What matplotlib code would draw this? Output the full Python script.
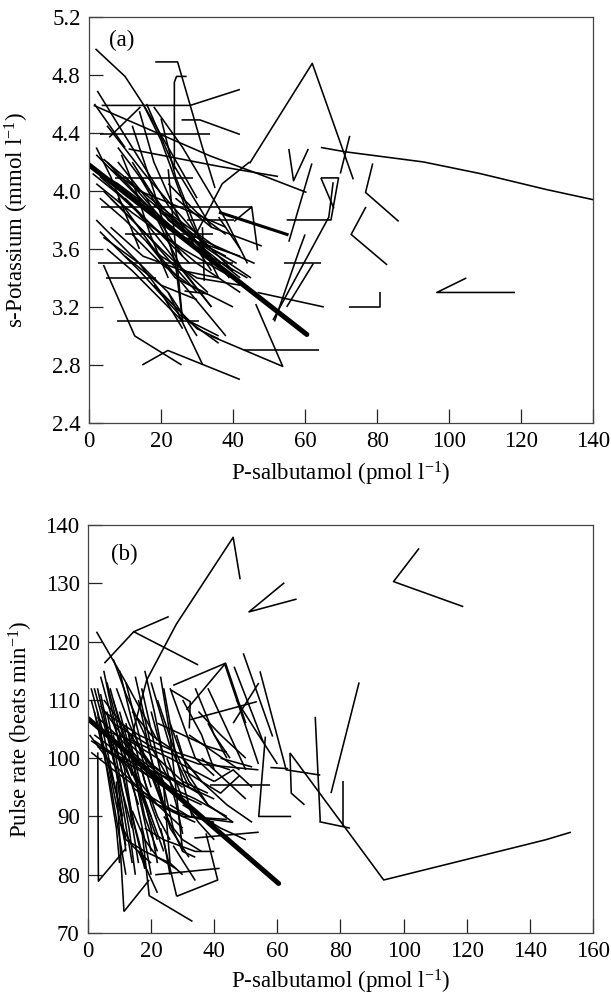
"""
Salbutamol vs potassium / pulse rate - individual subject traces
"""

import matplotlib
matplotlib.use('Agg')
import matplotlib.pyplot as plt

plt.rcParams['font.family'] = 'Liberation Serif'
plt.rcParams['mathtext.fontset'] = 'custom'
plt.rcParams['mathtext.rm'] = 'Liberation Serif'
plt.rcParams['mathtext.it'] = 'Liberation Serif:italic'

# (salbutamol pmol/l, s-potassium mmol/l) per subject
potassium_traces = [
    [(64.4, 4.30), (71.2, 4.27), (92.9, 4.20), (108.6, 4.12), (127.0, 4.01), (140, 3.94)],
    [(44.6, 4.19), (62.0, 4.88), (73.4, 4.08)],
    [(72.4, 4.38), (69.8, 4.12)],
    [(55.5, 4.29), (56.8, 4.07), (60.9, 4.29)],
    [(61.9, 4.19), (55.5, 3.65)],
    [(64.4, 4.09), (69.3, 4.09), (67.2, 3.80), (54.9, 3.80)],
    [(64.4, 4.09), (68.0, 3.88)],
    [(54.2, 3.50), (64.4, 3.50)],
    [(62.3, 3.50), (54.9, 3.20)],
    [(51.5, 3.10), (58.5, 3.60), (60.0, 3.70)],
    [(51.1, 3.11), (66.6, 3.82), (67.8, 4.06)],
    [(78.8, 4.19), (76.8, 3.99), (86.0, 3.79)],
    [(76.9, 3.89), (72.8, 3.70), (82.8, 3.49)],
    [(72.3, 3.20), (80.9, 3.20), (80.9, 3.30)],
    [(104.8, 3.40), (96.6, 3.30), (118.3, 3.30)],
    [(46.8, 3.30), (65.2, 3.20)],
    [(43.0, 2.90), (63.9, 2.90)],
    [(28.0, 3.62), (37.0, 4.05), (44.6, 4.20)],
    [(40.3, 3.79), (45.2, 3.89), (46.8, 3.59)],
    [(3.3, 3.89), (45.2, 3.89)],
    [(27.3, 3.80), (40.3, 3.80)],
    [(10.0, 3.70), (34.3, 3.70)],
    [(2.4, 3.50), (40.1, 3.50)],
    [(4.6, 3.40), (18.6, 3.40)],
    [(7.8, 3.10), (30.6, 3.10)],
    [(7.3, 4.09), (28.9, 4.09)],
    [(3.0, 4.39), (33.6, 4.39)],
    [(3.5, 4.59), (28.1, 4.59), (41.9, 4.70)],
    [(18.4, 4.89), (24.6, 4.89), (31.5, 4.30), (35.0, 4.02)],
    [(27.1, 4.79), (24.3, 4.79), (23.7, 4.75), (23.7, 4.15)],
    [(25.7, 4.49), (30.8, 4.49), (41.9, 4.39)],
    [(1.3, 4.59), (33.8, 4.24), (46.8, 4.12), (60.4, 3.99)],
    [(11.0, 4.29), (36.0, 4.17), (52.5, 4.10)],
    [(1.8, 4.98), (10.0, 4.79), (15.0, 4.60), (22.0, 4.30), (30.0, 3.95)],
    [(4.0, 3.49), (12.7, 3.00), (25.7, 2.80)],
    [(14.8, 2.80), (21.9, 2.90), (41.9, 2.70)],
    [(22.0, 3.30), (31.6, 2.80)],
    [(33.8, 3.00), (53.8, 2.79), (46.3, 3.22)],
    [(4.0, 3.68), (14.0, 3.50), (20.0, 3.30), (26.0, 3.05)],
    [(2.3, 4.69), (12.0, 4.30), (22.0, 3.90), (33.0, 3.55)],
    [(1.5, 4.60), (10.0, 4.30)],
    [(5.0, 4.45), (16.0, 4.10), (30.0, 3.70), (40.0, 3.45)],
    [(2.0, 4.25), (14.0, 3.95), (30.0, 3.60), (44.0, 3.40)],
    [(3.0, 4.10), (12.0, 3.90), (20.0, 3.65), (34.0, 3.20)],
    [(5.0, 4.20), (18.0, 3.85), (26.0, 3.55)],
    [(8.0, 4.30), (20.0, 3.90), (35.0, 3.50)],
    [(10.0, 4.10), (24.0, 3.70), (42.0, 3.55)],
    [(4.0, 4.00), (16.0, 3.70), (30.0, 3.30)],
    [(6.0, 3.95), (20.0, 3.60), (33.0, 3.30)],
    [(2.0, 3.80), (10.0, 3.60), (22.0, 3.30), (30.0, 3.00)],
    [(3.0, 3.72), (14.0, 3.45), (25.0, 3.15), (36.0, 2.95)],
    [(12.0, 4.20), (22.0, 3.80), (42.0, 3.40)],
    [(14.0, 4.55), (18.0, 4.20), (26.0, 3.75), (34.0, 3.45)],
    [(15.0, 4.60), (20.0, 4.35), (28.0, 3.80), (36.0, 3.40)],
    [(16.0, 4.60), (23.0, 4.20), (34.0, 3.75)],
    [(18.0, 4.58), (26.0, 4.30), (38.0, 3.80), (44.0, 3.50)],
    [(12.0, 4.45), (18.0, 4.00), (24.0, 3.50), (26.0, 3.10)],
    [(20.0, 4.50), (24.0, 4.10), (32.0, 3.60), (39.0, 3.40)],
    [(8.0, 3.95), (18.0, 3.60), (28.0, 3.30), (38.0, 3.00)],
    [(6.0, 3.75), (15.0, 3.55), (26.0, 3.45), (36.0, 3.40)],
    [(16.0, 3.95), (26.0, 3.45), (34.0, 3.20)],
    [(20.0, 3.30), (28.0, 3.10), (36.0, 3.00)],
    [(10.0, 3.55), (20.0, 3.35), (30.0, 3.25)],
    [(22.0, 4.05), (30.0, 3.85), (38.0, 3.70)],
    [(5.6, 4.37), (14.3, 4.58)],
    [(30.0, 3.65), (45.0, 3.40)],
    [(26.5, 3.31), (33.0, 3.29)],
    [(18.0, 3.35), (30.0, 3.05), (36.0, 2.98)],
    [(36.0, 3.82), (42.0, 3.60)],
    [(22.0, 4.15), (26.0, 3.10)],
    [(31.5, 3.75), (32.0, 3.38)],
    [(1.0, 4.15), (8.0, 4.05), (16.0, 3.90)],
    [(0.5, 4.17), (10.0, 4.00), (20.0, 3.80), (32.0, 3.55)],
    [(1.0, 4.12), (8.0, 3.98), (18.0, 3.75), (28.0, 3.50)],
    [(2.0, 4.05), (12.0, 3.85), (26.0, 3.60), (40.0, 3.40)],
    [(4.0, 4.22), (12.0, 4.05), (22.0, 3.85), (36.0, 3.60)],
    [(6.0, 4.15), (14.0, 4.00), (24.0, 3.90), (38.0, 3.75)],
    [(8.0, 4.20), (16.0, 3.95), (28.0, 3.70), (46.0, 3.50)],
    [(3.0, 3.95), (10.0, 3.80), (20.0, 3.55), (30.0, 3.40), (42.0, 3.35)],
    [(10.0, 3.95), (18.0, 3.75), (30.0, 3.50), (42.0, 3.30)],
    [(14.0, 4.10), (20.0, 3.85), (30.0, 3.65), (38.0, 3.55)],
    [(5.0, 3.60), (12.0, 3.45), (20.0, 3.25), (26.0, 3.10)],
    [(12.0, 3.70), (20.0, 3.50), (28.0, 3.35), (40.0, 3.20)],
    [(16.0, 3.65), (24.0, 3.40), (32.0, 3.30)],
    [(9.0, 4.25), (13.0, 4.00), (17.0, 3.70), (22.0, 3.40)],
    [(18.0, 3.90), (24.0, 3.80), (34.0, 3.60), (41.0, 3.50)],
    [(2.0, 4.30), (6.0, 4.10), (10.0, 3.85), (14.0, 3.60)],
    [(24.0, 3.95), (34.0, 3.75), (48.0, 3.62)],
]
potassium_bold = [(36.5, 3.85), (55.0, 3.70)]
potassium_mean = [(0, 4.18), (60.5, 3.01)]

# (salbutamol pmol/l, pulse beats/min) per subject
pulse_traces = [
    [(13, 102), (18.6, 113.4), (28, 123), (46, 137.9), (48.2, 130.7)],
    [(62.2, 130.1), (51.0, 125.1), (66.1, 127.3)],
    [(104.9, 136), (96.8, 130.3), (118.9, 126)],
    [(64, 100.9), (93.7, 79.1), (145, 86), (153, 87.3)],
    [(73.3, 89.1), (83, 88)],
    [(72, 107.1), (73.6, 89.1)],
    [(80.7, 96), (80.7, 88.2)],
    [(85.9, 113), (77, 94)],
    [(64.4, 90), (54.1, 90), (56.2, 103.7)],
    [(64, 100.9), (64.4, 94), (68.6, 92)],
    [(54.5, 114.9), (62.8, 98), (73.6, 97.1)],
    [(49.2, 118), (58.5, 103.7)],
    [(46.3, 115.7), (55.5, 102.8)],
    [(43.4, 116), (54, 99)],
    [(38.6, 95.4), (57.8, 95.4)],
    [(57.8, 98.4), (63.4, 98.2)],
    [(31.2, 108.3), (43.6, 116.3)],
    [(25.6, 124.3), (14.5, 121.7), (34.9, 116)],
    [(5.2, 116.3), (14.5, 121.7)],
    [(2.7, 121.7), (12, 113), (22, 103)],
    [(26.3, 111.7), (32.4, 109.7), (32.1, 105.1)],
    [(32.4, 106.6), (53.5, 109.7)],
    [(27, 112.5), (43.6, 116.3), (50, 106)],
    [(3.1, 101), (3.3, 78.9), (12, 84.5)],
    [(11.4, 73.7), (19.4, 79.1)],
    [(9, 96), (11.4, 73.7)],
    [(17, 88), (19.4, 76.4), (33.1, 72)],
    [(28.1, 76.3), (41.1, 79.1), (37.4, 87.1)],
    [(21.3, 80), (41.7, 81.1)],
    [(33.7, 86.3), (54.1, 87.3)],
    [(23, 88), (28.1, 76.3)],
    [(16, 84), (22, 76.9)],
    [(2, 112), (8, 100), (14, 88)],
    [(3, 112), (10, 95), (14, 82)],
    [(4, 111), (9, 98), (12, 84)],
    [(1, 110), (6, 100), (11, 90)],
    [(2, 108), (7, 96), (12, 80)],
    [(5, 115), (10, 102), (16, 92)],
    [(6, 113), (12, 100), (20, 90)],
    [(7, 112), (14, 98), (22, 86)],
    [(8, 110), (16, 96), (24, 84)],
    [(10, 115), (15, 104), (20, 95)],
    [(12, 113), (18, 100), (25, 90)],
    [(15, 114), (20, 102), (28, 94)],
    [(17, 112), (22, 100), (27, 88)],
    [(20, 113), (26, 102), (32, 95)],
    [(23, 114), (26, 104), (30, 84)],
    [(24, 112), (28, 100), (33, 90)],
    [(1, 106), (10, 102), (20, 97), (30, 93)],
    [(2, 104), (12, 100), (24, 95), (36, 92)],
    [(3, 102), (15, 99), (28, 96), (40, 93)],
    [(1, 103), (12, 99), (22, 92), (30, 88)],
    [(4, 105), (14, 103), (26, 100), (40, 96)],
    [(5, 108), (16, 104), (28, 101), (45, 98)],
    [(8, 106), (20, 102), (35, 99), (54, 98)],
    [(10, 104), (22, 100), (30, 96), (38, 94)],
    [(6, 104), (14, 96), (18, 86), (20, 80)],
    [(9, 102), (13, 92), (16, 82)],
    [(11, 100), (14, 90), (18, 81)],
    [(13, 104), (16, 94), (20, 84)],
    [(16, 100), (20, 92), (24, 86), (26, 80)],
    [(18, 104), (22, 96), (26, 88), (32, 83)],
    [(20, 98), (25, 90), (30, 84), (34, 83)],
    [(25, 100), (30, 93), (35, 89), (40, 86)],
    [(28, 104), (32, 97), (38, 92), (46, 89)],
    [(30, 100), (36, 96), (44, 92), (52, 89)],
    [(14, 108), (20, 104), (28, 101)],
    [(22, 106), (30, 104), (38, 102), (44, 101)],
    [(32, 104), (40, 101), (48, 98)],
    [(18, 88), (24, 86), (34, 84), (40, 84)],
    [(12, 86), (18, 84), (26, 82)],
    [(26, 92), (32, 90), (40, 89)],
    [(14, 95), (22, 92), (32, 90), (46, 89)],
    [(30, 98), (42, 94), (48, 97)],
    [(34, 112), (40, 104), (45, 100)],
    [(38, 112), (44, 105), (50, 98)],
    [(47, 110), (54, 104), (60, 99)],
    [(46, 106), (54.1, 112.9)],
    [(40, 96), (46, 98), (52, 95)],
    [(36, 100), (44, 96), (50, 93)],
    [(8, 117), (12, 111), (18, 104)],
    [(4, 114), (8, 106), (14, 97)],
    [(27, 85), (34, 79)],
    [(24, 95), (26, 82), (30, 80)],
    [(0.5, 104), (6, 100), (14, 96), (22, 92), (34, 89)],
    [(1, 101), (8, 98), (18, 94), (30, 90), (44, 89.5)],
    [(2, 103), (10, 100), (22, 96), (34, 93), (44, 90)],
    [(3, 107), (9, 104), (16, 100), (26, 96)],
    [(5, 110), (12, 105), (20, 99), (30, 95)],
    [(1, 112), (5, 104), (9, 94), (12, 86)],
    [(3, 108), (6, 98), (9, 88), (10, 82)],
    [(6, 108), (10, 97), (13, 88), (15, 80)],
    [(8, 104), (12, 95), (15, 88), (18, 82)],
    [(10, 108), (14, 100), (18, 90), (22, 84)],
    [(12, 106), (16, 97), (20, 88), (22, 82)],
    [(14, 104), (18, 96), (22, 90), (26, 86)],
    [(16, 110), (20, 100), (24, 92)],
    [(20, 108), (24, 100), (28, 92), (30, 87)],
    [(22, 110), (27, 102), (32, 96), (38, 92)],
    [(26, 106), (30, 100), (36, 96)],
    [(18, 115), (21, 108), (24, 100)],
    [(9, 112), (13, 106), (18, 100), (24, 96)],
    [(4, 109), (12, 103), (22, 98), (35, 94)],
    [(26, 112), (30, 106), (34, 100), (40, 97)],
    [(6, 100), (9, 92), (12, 85)],
    [(14, 91), (18, 86), (22, 83), (28, 81)],
    [(24, 90), (30, 86), (36, 84)],
    [(30, 92), (36, 90), (42, 88), (50, 86)],
    [(10, 89), (14, 85), (20, 82)],
    [(35, 108), (42, 104), (50, 100)],
    [(38, 106), (44, 100)],
    [(42, 100), (52, 98.5)],
    [(30, 110), (36, 104), (40, 98)],
]
pulse_mean = [(0, 106.8), (60.4, 78.5)]

k_xticks = [0, 20, 40, 60, 80, 100, 120, 140]
k_yticks = [2.4, 2.8, 3.2, 3.6, 4.0, 4.4, 4.8, 5.2]
p_xticks = [0, 20, 40, 60, 80, 100, 120, 140, 160]
p_yticks = [70, 80, 90, 100, 110, 120, 130, 140]


def style_axes(ax, xticks, yticks, yfmt):
    ax.set_xticks(xticks)
    ax.set_yticks(yticks)
    ax.set_yticklabels([yfmt.format(v) for v in yticks])
    ax.set_xlim(xticks[0], xticks[-1])
    ax.set_ylim(yticks[0], yticks[-1])
    ax.tick_params(direction='in', length=10, width=0.9, labelsize=16.5,
                   top=False, right=False, pad=6, color='#222222')
    for s in ax.spines.values():
        s.set_linewidth(0.9)
        s.set_color('#444444')


def draw_traces(ax, traces):
    for tr in traces:
        xs = [p[0] for p in tr]
        ys = [p[1] for p in tr]
        ax.plot(xs, ys, color='black', linewidth=1.15, solid_capstyle='butt')


fig = plt.figure(figsize=(6.11, 9.98), dpi=100)

# (a) potassium
ax1 = fig.add_axes([0.1457, 0.5762, 0.825, 0.4068])
draw_traces(ax1, potassium_traces)
ax1.plot([p[0] for p in potassium_bold], [p[1] for p in potassium_bold],
         color='black', linewidth=2.2)
ax1.plot([p[0] for p in potassium_mean], [p[1] for p in potassium_mean],
         color='black', linewidth=3.6, solid_capstyle='round')
style_axes(ax1, k_xticks, k_yticks, '{:.1f}')
ax1.set_xlabel('P-salbutamol (pmol l$^{-1}$)', fontsize=16.5)
ax1.set_ylabel('s-Potassium (mmol l$^{-1}$)', fontsize=16.5)
ax1.xaxis.set_label_coords(0.5, -0.09)
ax1.yaxis.set_label_coords(-0.115, 0.5)
ax1.text(0.064, 0.943, '(a)', transform=ax1.transAxes, fontsize=16.5,
         ha='center', va='center')

# (b) pulse rate
ax2 = fig.add_axes([0.144, 0.0651, 0.8265, 0.4088])
draw_traces(ax2, pulse_traces)
ax2.plot([p[0] for p in pulse_mean], [p[1] for p in pulse_mean],
         color='black', linewidth=3.6, solid_capstyle='round')
style_axes(ax2, p_xticks, p_yticks, '{:d}')
ax2.set_xlabel('P-salbutamol (pmol l$^{-1}$)', fontsize=16.5)
ax2.set_ylabel('Pulse rate (beats min$^{-1}$)', fontsize=16.5)
ax2.xaxis.set_label_coords(0.5, -0.085)
ax2.yaxis.set_label_coords(-0.105, 0.5)
ax2.text(0.072, 0.929, '(b)', transform=ax2.transAxes, fontsize=16.5,
         ha='center', va='center')

fig.savefig('out.png', dpi=100)
